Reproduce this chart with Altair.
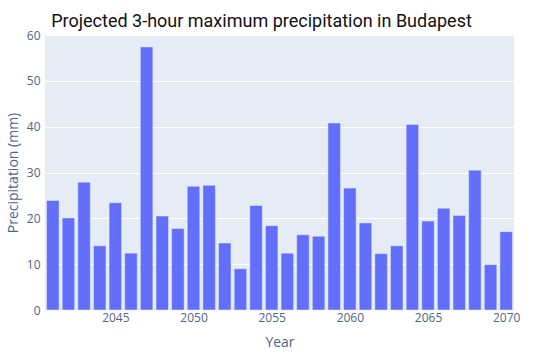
import altair as alt
import pandas as pd

years = list(range(2041, 2071))
precip = [23.9, 20.1, 27.9, 14.0, 23.4, 12.4, 57.4, 20.5, 17.8, 27.0,
          27.2, 14.6, 9.0, 22.8, 18.4, 12.4, 16.4, 16.1, 40.8, 26.6,
          19.0, 12.3, 14.0, 40.5, 19.4, 22.2, 20.6, 30.5, 9.9, 17.1]
x_ticks = [2045, 2050, 2055, 2060, 2065, 2070]
y_ticks = [0, 10, 20, 30, 40, 50, 60]

df = pd.DataFrame({"Year": years, "Precipitation": precip})

label_color = "#506784"
font = "Open Sans"

chart = (
    alt.Chart(df)
    .transform_calculate(x0="datum.Year - 0.4", x1="datum.Year + 0.4")
    .mark_bar(color="#636EFA", stroke="#E5ECF6", strokeWidth=0.5)
    .encode(
        x=alt.X("x0:Q",
                scale=alt.Scale(domain=[2040.5, 2070.5], nice=False, zero=False),
                axis=alt.Axis(title="Year", values=x_ticks, format="d", grid=False,
                              ticks=False, domain=False, labelPadding=2,
                              labelFont=font, labelFontSize=12, labelColor=label_color,
                              titleFont=font, titleFontSize=14, titleColor=label_color,
                              titleFontWeight="normal", titlePadding=12)),
        x2="x1:Q",
        y=alt.Y("Precipitation:Q",
                scale=alt.Scale(domain=[0, 60], nice=False, padding=0),
                axis=alt.Axis(title="Precipitation (mm)", values=y_ticks, grid=True,
                              gridColor="white", gridWidth=1, ticks=False, domain=False,
                              labelPadding=5, labelFont=font, labelFontSize=12,
                              labelColor=label_color, titleFont=font, titleFontSize=14,
                              titleColor=label_color, titleFontWeight="normal",
                              titlePadding=6)),
        y2=alt.datum(0),
    )
    .properties(
        width=469,
        height=275,
        title=alt.TitleParams("Projected 3-hour maximum precipitation in Budapest",
                              font="Roboto", fontSize=18, fontWeight="normal",
                              color="#111111", anchor="middle", dx=-18, dy=24,
                              baseline="alphabetic", offset=8),
        padding={"left": 45, "top": 35, "right": 31, "bottom": 47},
        autosize=alt.AutoSizeParams(type="none"),
        background="white",
    )
    .configure_view(fill="#E5ECF6", stroke=None)
)

chart.save("out.html", embed_options={"renderer": "svg", "actions": False})
